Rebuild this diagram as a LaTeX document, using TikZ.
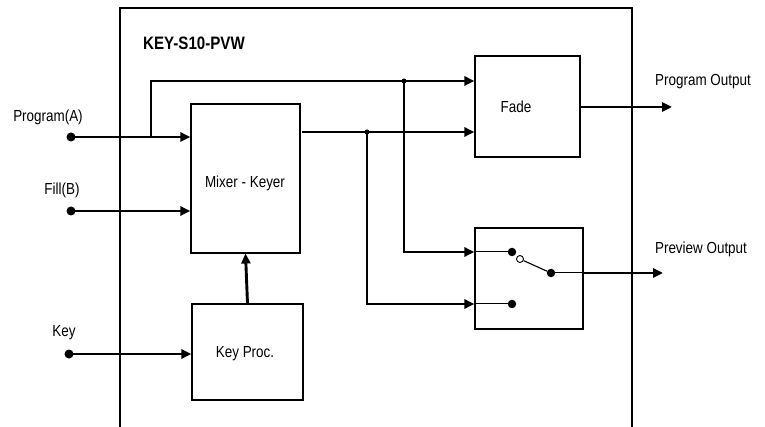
\documentclass[tikz,border=0pt]{standalone}
\usepackage{fontspec}
\setmainfont{Liberation Sans}[FakeStretch=0.84]
\usetikzlibrary{arrows.meta}
\begin{document}
\begin{tikzpicture}[x=1pt,y=-1pt,
  box/.style={draw,line width=1.1pt,inner sep=0pt},
  conn/.style={line width=2.9pt,-{Triangle[length=10pt,width=9pt]}},
  thin/.style={line width=1pt},
  lbl/.style={font=\fontsize{16}{18}\selectfont,inner sep=0pt},
  bdot/.style={fill,circle,inner sep=0pt,minimum size=#1},
  odot/.style={draw,fill=white,circle,line width=0.9pt,inner sep=0pt,minimum size=#1}]
\useasboundingbox (0,0) rectangle (765,427);
\fill[white] (0,0) rectangle (765,427);
% frame
\draw[line width=1.3pt] (120,430) -- (120,8) -- (632,8) -- (632,430);
\node[lbl,font=\fontsize{18}{20}\selectfont\bfseries] (title) at (194,43) {KEY-S10-PVW};
% boxes
\node[box,minimum width=109pt,minimum height=149pt] (mixer) at (245.5,178.5) {};
\node[lbl] at (245,183) {Mixer - Keyer};
\node[box,minimum width=105pt,minimum height=101pt] (fade) at (527.5,106.5) {};
\node[lbl] at (516,107) {Fade};
\node[box,minimum width=108pt,minimum height=101pt] (sw) at (529,278.5) {};
\node[box,minimum width=111pt,minimum height=96pt] (kp) at (247.5,352) {};
\node[lbl] at (245,354) {Key Proc.};
% labels
\node[lbl] (lA) at (48,117) {Program(A)};
\node[lbl] (lB) at (62,190) {Fill(B)};
\node[lbl] (lK) at (64,333) {Key};
\node[lbl] (lPO) at (703,82) {Program Output};
\node[lbl] (lPV) at (701,249) {Preview Output};
% input dots
\node[bdot=9pt] (pA) at (71,137) {};
\node[bdot=9pt] (pB) at (71,211) {};
\node[bdot=9pt] (pK) at (69,354) {};
% coordinates
\coordinate (brA) at (151,137);
\coordinate (brAt) at (151,81);
\coordinate (j1) at (404,81);
\coordinate (j1b) at (404,252);
\coordinate (mo) at (302,132);
\coordinate (j2) at (367,132);
\coordinate (j2b) at (367,304);
% inputs
\draw[conn] (pA.center) -- (mixer.west |- pA);
\draw[conn] (pB.center) -- (mixer.west |- pB);
\draw[conn] (pK.center) -- (kp.west |- pK);
\draw[conn] (kp.north) -- (mixer.south);
% program branch to fade
\draw[conn] (brA) -- (brAt) -- (fade.west |- brAt);
% mixer out to fade
\draw[conn] (mo) -- (fade.west |- mo);
% branches to switch
\draw[conn] (j1) -- (j1b) -- (sw.west |- j1b);
\draw[conn] (j2) -- (j2b) -- (sw.west |- j2b);
\node[bdot=5pt] at (j1) {};
\node[bdot=5pt] at (j2) {};
% fade output
\coordinate (po) at (672,107);
\draw[conn] (fade.east |- po) -- (po);
% switch internals
\node[bdot=8.5pt] (s1) at (512,252) {};
\node[bdot=8.5pt] (s2) at (512,304) {};
\node[bdot=8.5pt] (s3) at (551,273) {};
\draw[thin] (sw.west |- s1) -- (s1);
\draw[thin] (sw.west |- s2) -- (s2);
\draw[thin] (s3) -- (sw.east |- s3);
\node[odot=7pt] (s0) at (520,259) {};
\draw[line width=1.1pt] (s0) -- (s3);
\coordinate (pvo) at (663,273);
\draw[conn] (sw.east |- pvo) -- (pvo);
\end{tikzpicture}
\end{document}
